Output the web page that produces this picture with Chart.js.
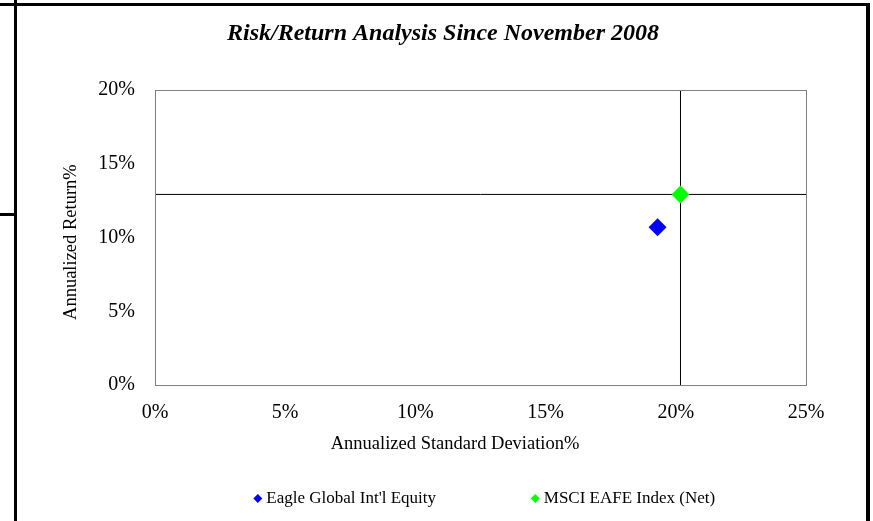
<!DOCTYPE html>
<html>
<head>
<meta charset="utf-8">
<script src="https://cdn.jsdelivr.net/npm/chart.js@4.4.1/dist/chart.umd.min.js"></script>
<style>
  html, body { margin: 0; padding: 0; background: #fff; }
  #wrap { position: relative; width: 873px; height: 521px; }
</style>
</head>
<body>
<div id="wrap"><canvas id="riskChart" width="873" height="521"></canvas></div>
<script>
// values
var seriesNames = ["Eagle Global Int'l Equity", "MSCI EAFE Index (Net)"];
var stdDev = [19.3, 20.18];       // annualized standard deviation %
var annReturn = [10.7, 12.92];    // annualized return %
var seriesColors = ['#0000FF', '#00FF00'];
var xRange = [0, 25];
var yRange = [0, 20];
var tickStep = 5;

var serif = "'Liberation Serif', 'Times New Roman', serif";
var benchIdx = 1;
var nb = function (n) { return '\u00a0'.repeat(n); };

// frame lines around the slide + plot box, and nudge title/legend like the original
var framePlugin = {
  id: 'frame',
  afterLayout: function (chart) {
    chart.titleBlock.left += 30;
    chart.titleBlock.right += 30;
    chart.legend.left += 6;
    chart.legend.right += 6;
  },
  afterDraw: function (chart) {
    var ctx = chart.ctx;
    var a = chart.chartArea;
    ctx.save();
    ctx.strokeStyle = '#808080';
    ctx.lineWidth = 1;
    ctx.strokeRect(Math.round(a.left) + 0.5, Math.round(a.top) + 0.5, Math.round(a.right - a.left), Math.round(a.bottom - a.top));
    ctx.fillStyle = '#000';
    ctx.fillRect(0, 3, 870, 3);
    ctx.fillRect(14, 0, 3, 521);
    ctx.fillRect(866, 3, 4, 518);
    ctx.fillRect(0, 213, 14, 3);
    ctx.restore();
  }
};

var ctx = document.getElementById('riskChart').getContext('2d');
var pointSets = seriesNames.map(function (name, i) {
  return {
    label: name,
    data: [{ x: stdDev[i], y: annReturn[i] }],
    backgroundColor: seriesColors[i],
    borderColor: seriesColors[i],
    pointStyle: 'rectRot',
    pointRadius: 9,
    pointHoverRadius: 9,
    borderWidth: 0,
    order: 0
  };
});
// crosshair through the benchmark point
var crossSets = [
  { label: 'h', data: [{ x: xRange[0], y: annReturn[benchIdx] }, { x: xRange[1], y: annReturn[benchIdx] }] },
  { label: 'v', data: [{ x: stdDev[benchIdx], y: yRange[0] }, { x: stdDev[benchIdx], y: yRange[1] }] }
].map(function (d) {
  d.showLine = true;
  d.borderColor = '#000';
  d.borderWidth = 1;
  d.pointRadius = 0;
  d.order = 1;
  return d;
});

var riskChart = new Chart(ctx, {
  type: 'scatter',
  data: { datasets: pointSets.concat(crossSets) },
  options: {
    responsive: false,
    animation: false,
    layout: { padding: { left: 20, right: 67, top: 0, bottom: 4 } },
    plugins: {
      tooltip: { enabled: false },
      title: {
        display: true,
        text: 'Risk/Return Analysis Since November 2008',
        color: '#000',
        font: { family: serif, size: 24, weight: 'bold', style: 'italic' },
        padding: { top: 19, bottom: 42.2 }
      },
      legend: {
        position: 'bottom',
        fullSize: false,
        labels: {
          color: '#000',
          font: { family: serif, size: 17 },
          usePointStyle: true,
          boxWidth: 0.01,
          boxHeight: 6.4,
          padding: 10,
          filter: function (item) { return item.datasetIndex < seriesNames.length; },
          generateLabels: function (chart) {
            var items = Chart.defaults.plugins.legend.labels.generateLabels(chart);
            items.forEach(function (it) {
              it.pointStyle = 'rectRot';
              it.lineWidth = 0;
              if (it.datasetIndex === 0) it.text = it.text + nb(21);
            });
            return items;
          }
        }
      }
    },
    scales: {
      x: {
        type: 'linear',
        min: xRange[0],
        max: xRange[1],
        grid: { display: false, drawTicks: false },
        border: { display: false },
        ticks: {
          stepSize: tickStep,
          padding: 16,
          color: '#000',
          font: { family: serif, size: 20 },
          callback: function (v) { return v + '%'; }
        },
        title: {
          display: true,
          text: 'Annualized Standard Deviation%' + nb(11),
          color: '#000',
          font: { family: serif, size: 18.5 },
          padding: { top: 0, bottom: 25 }
        },
        afterFit: function (scale) { scale.height = 95; }
      },
      y: {
        type: 'linear',
        min: yRange[0],
        max: yRange[1],
        grid: { display: false, drawTicks: false },
        border: { display: false },
        ticks: {
          stepSize: tickStep,
          padding: 20,
          color: '#000',
          font: { family: serif, size: 20 },
          callback: function (v) { return v + '%'; }
        },
        title: {
          display: true,
          text: 'Annualized Return%' + nb(2),
          color: '#000',
          font: { family: serif, size: 18.5 },
          padding: { top: 40, bottom: 0 }
        },
        afterFit: function (scale) { scale.width = 135; }
      }
    }
  },
  plugins: [framePlugin]
});
</script>
</body>
</html>
